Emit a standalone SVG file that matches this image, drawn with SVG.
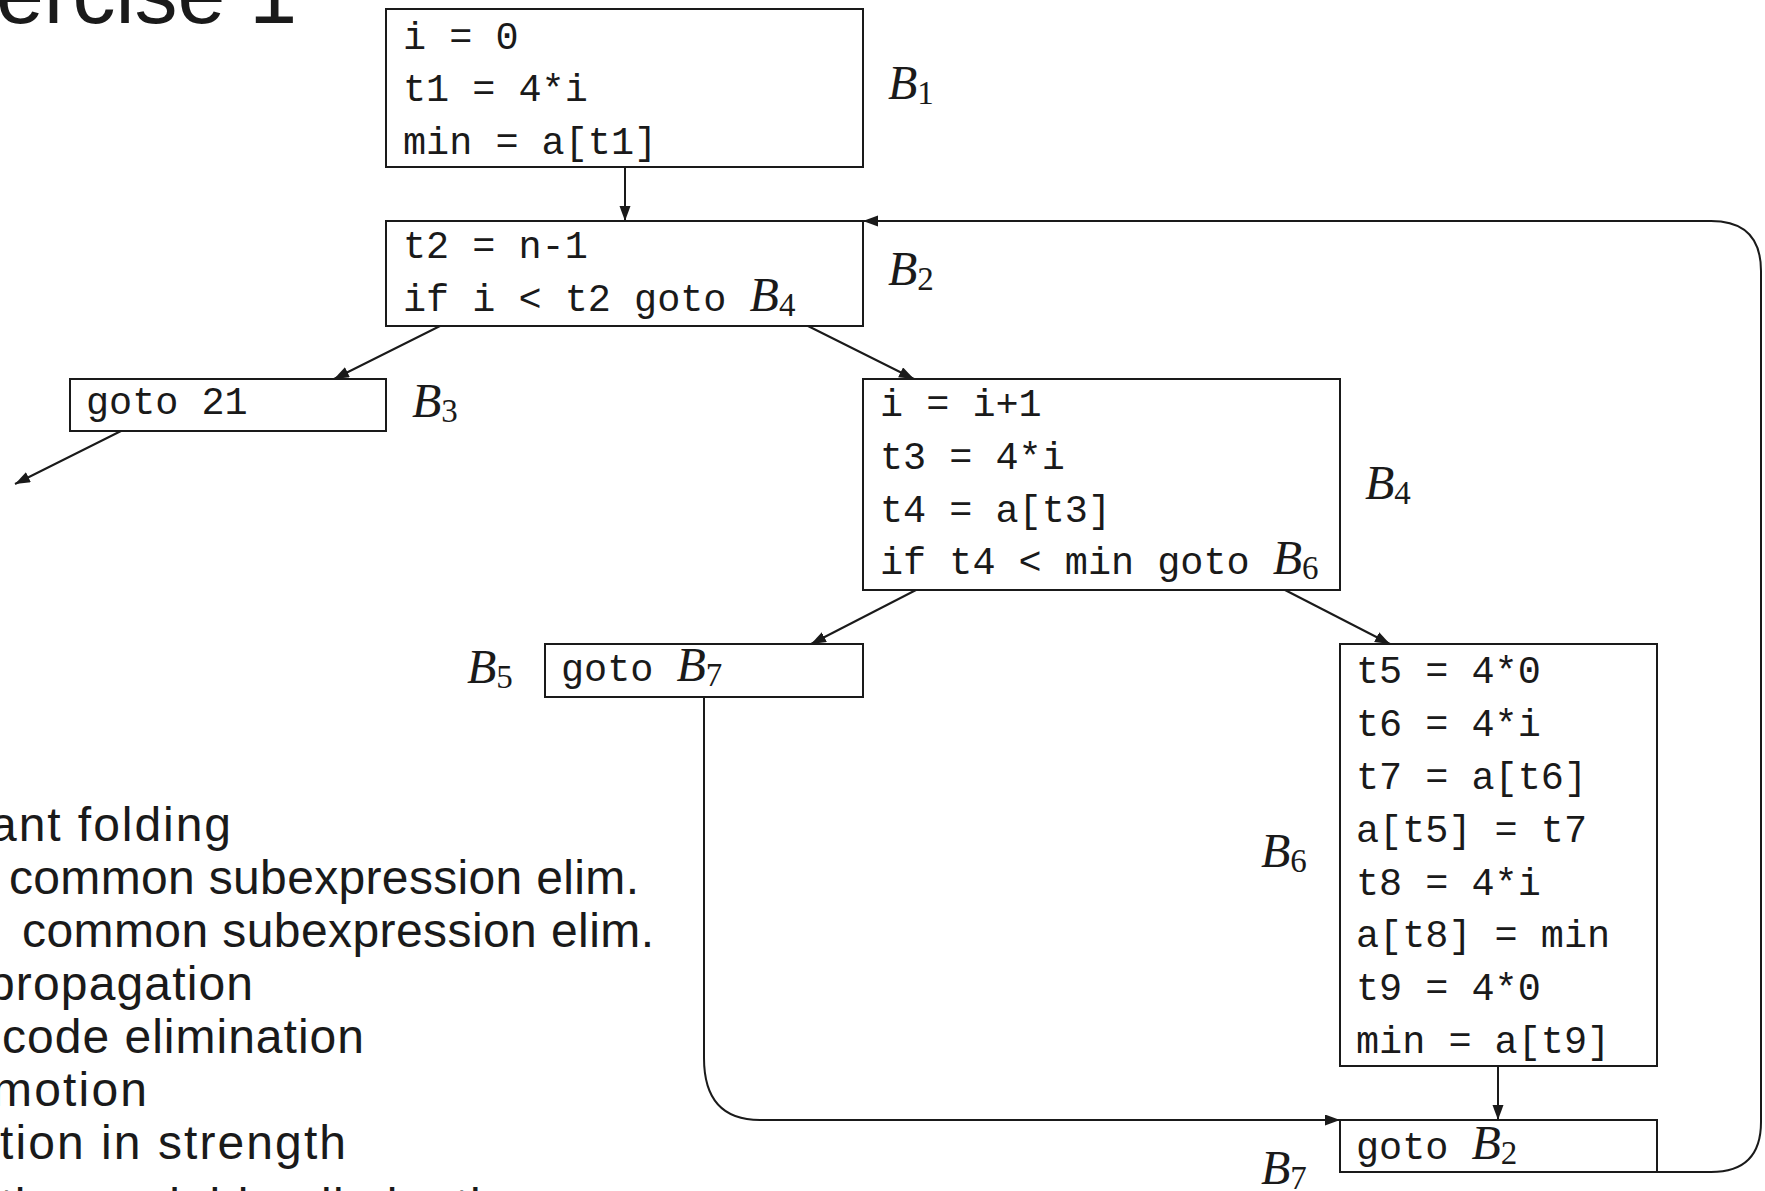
<svg xmlns="http://www.w3.org/2000/svg" width="1765" height="1191" viewBox="0 0 1765 1191">
<style>
  .box { fill: #fff; stroke: #1a1a1a; stroke-width: 2; }
  .code { font-family: "Liberation Mono", "DejaVu Sans Mono", monospace; font-size: 38.5px; fill: #1a1a1a; }
  .lbl { font-family: "Liberation Serif", "DejaVu Serif", serif; font-size: 48px; font-style: italic; fill: #1a1a1a; }
  .sub { font-family: "Liberation Serif", "DejaVu Serif", serif; font-size: 33px; font-style: normal; }
  .txt { font-family: "Liberation Sans", "DejaVu Sans", sans-serif; font-size: 48px; fill: #1a1a1a; }
  .title { font-family: "Liberation Sans", "DejaVu Sans", sans-serif; font-size: 86px; fill: #1a1a1a; }
  .edge { fill: none; stroke: #1a1a1a; stroke-width: 2; }
</style>
<defs>
  <marker id="arr" markerUnits="userSpaceOnUse" markerWidth="18" markerHeight="12" refX="15" refY="5.5" orient="auto">
    <path d="M0,0 L15,5.5 L0,11 z" fill="#1a1a1a"/>
  </marker>
</defs>
<rect x="0" y="0" width="1765" height="1191" fill="#fff"/>

<g id="title">
  <text class="title" x="-4" y="23">ercise 1</text>
</g>

<g id="list">
  <text class="txt" x="-10" y="841" textLength="241" lengthAdjust="spacing">ant folding</text>
  <text class="txt" x="9" y="894" textLength="630" lengthAdjust="spacing">common subexpression elim.</text>
  <text class="txt" x="22" y="947" textLength="632" lengthAdjust="spacing">common subexpression elim.</text>
  <text class="txt" x="-12" y="1000" textLength="265" lengthAdjust="spacing">propagation</text>
  <text class="txt" x="2" y="1053" textLength="362" lengthAdjust="spacing">code elimination</text>
  <text class="txt" x="-8" y="1106" textLength="155" lengthAdjust="spacing">motion</text>
  <text class="txt" x="0" y="1159" textLength="346" lengthAdjust="spacing">tion in strength</text>
  <text class="txt" x="0" y="1222" textLength="537" lengthAdjust="spacing">tion variable elimination</text>
</g>

<g id="connectors">
  <line class="edge" x1="625" y1="167" x2="625" y2="221" marker-end="url(#arr)"/>
  <line class="edge" x1="440" y1="326" x2="334" y2="379" marker-end="url(#arr)"/>
  <line class="edge" x1="121" y1="431" x2="15" y2="484" marker-end="url(#arr)"/>
  <line class="edge" x1="808" y1="326" x2="914" y2="379" marker-end="url(#arr)"/>
  <line class="edge" x1="916" y1="590" x2="811" y2="644" marker-end="url(#arr)"/>
  <line class="edge" x1="1285" y1="590" x2="1390" y2="644" marker-end="url(#arr)"/>
  <line class="edge" x1="1498" y1="1066" x2="1498" y2="1120" marker-end="url(#arr)"/>
  <path class="edge" d="M704,697 V1058 Q704,1120 760,1120 H1340" marker-end="url(#arr)"/>
  <path class="edge" d="M1657,1172 H1711 Q1761,1172 1761,1122 V271 Q1761,221 1711,221 H863" marker-end="url(#arr)"/>
</g>

<g id="B1">
  <rect class="box" x="386" y="9" width="477" height="158"/>
  <text class="code" x="403" y="49" xml:space="preserve">i = 0</text>
  <text class="code" x="403" y="101" xml:space="preserve">t1 = 4*i</text>
  <text class="code" x="403" y="154" xml:space="preserve">min = a[t1]</text>
  <text class="lbl" x="888" y="99">B<tspan class="sub" dy="5">1</tspan></text>
</g>

<g id="B2">
  <rect class="box" x="386" y="221" width="477" height="105"/>
  <text class="code" x="403" y="258" xml:space="preserve">t2 = n-1</text>
  <text class="code" x="403" y="311" xml:space="preserve">if i &lt; t2 goto <tspan class="lbl">B<tspan class="sub" dy="5">4</tspan></tspan></text>
  <text class="lbl" x="888" y="285">B<tspan class="sub" dy="5">2</tspan></text>
</g>

<g id="B3">
  <rect class="box" x="70" y="379" width="316" height="52"/>
  <text class="code" x="86" y="414" xml:space="preserve">goto 21</text>
  <text class="lbl" x="412" y="417">B<tspan class="sub" dy="5">3</tspan></text>
</g>

<g id="B4">
  <rect class="box" x="863" y="379" width="477" height="211"/>
  <text class="code" x="880" y="416" xml:space="preserve">i = i+1</text>
  <text class="code" x="880" y="469" xml:space="preserve">t3 = 4*i</text>
  <text class="code" x="880" y="522" xml:space="preserve">t4 = a[t3]</text>
  <text class="code" x="880" y="574" xml:space="preserve">if t4 &lt; min goto <tspan class="lbl">B<tspan class="sub" dy="5">6</tspan></tspan></text>
  <text class="lbl" x="1365" y="499">B<tspan class="sub" dy="5">4</tspan></text>
</g>

<g id="B5">
  <rect class="box" x="545" y="644" width="318" height="53"/>
  <text class="code" x="561" y="681" xml:space="preserve">goto <tspan class="lbl">B<tspan class="sub" dy="5">7</tspan></tspan></text>
  <text class="lbl" x="467" y="683">B<tspan class="sub" dy="5">5</tspan></text>
</g>

<g id="B6">
  <rect class="box" x="1340" y="644" width="317" height="422"/>
  <text class="code" x="1356" y="683" xml:space="preserve">t5 = 4*0</text>
  <text class="code" x="1356" y="736" xml:space="preserve">t6 = 4*i</text>
  <text class="code" x="1356" y="789" xml:space="preserve">t7 = a[t6]</text>
  <text class="code" x="1356" y="842" xml:space="preserve">a[t5] = t7</text>
  <text class="code" x="1356" y="895" xml:space="preserve">t8 = 4*i</text>
  <text class="code" x="1356" y="947" xml:space="preserve">a[t8] = min</text>
  <text class="code" x="1356" y="1000" xml:space="preserve">t9 = 4*0</text>
  <text class="code" x="1356" y="1053" xml:space="preserve">min = a[t9]</text>
  <text class="lbl" x="1261" y="867">B<tspan class="sub" dy="5">6</tspan></text>
</g>

<g id="B7">
  <rect class="box" x="1340" y="1120" width="317" height="52"/>
  <text class="code" x="1356" y="1159" xml:space="preserve">goto <tspan class="lbl">B<tspan class="sub" dy="5">2</tspan></tspan></text>
  <text class="lbl" x="1261" y="1184">B<tspan class="sub" dy="5">7</tspan></text>
</g>
</svg>
